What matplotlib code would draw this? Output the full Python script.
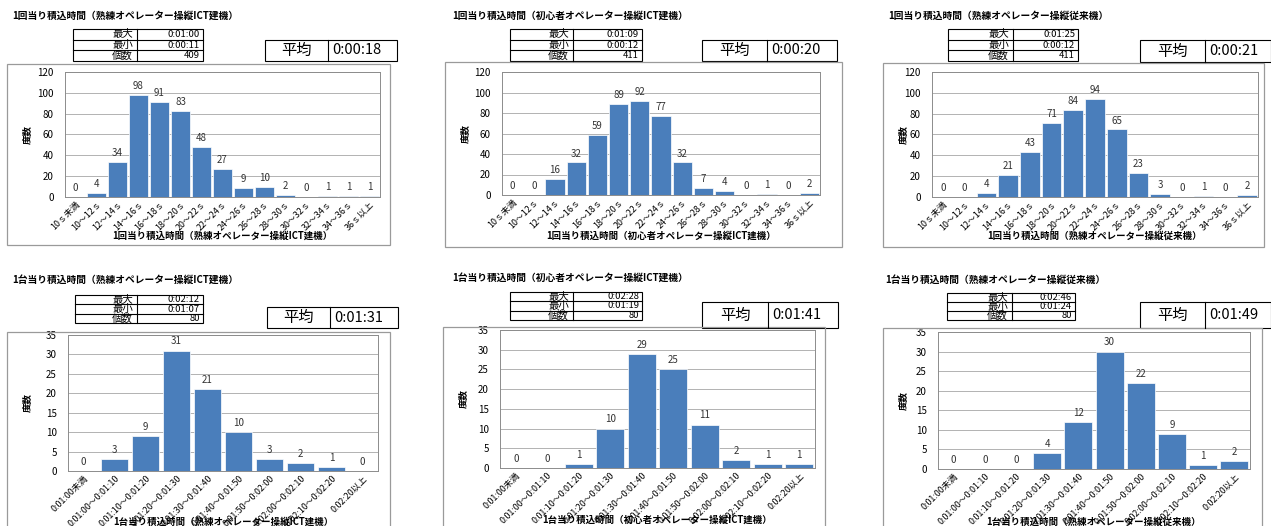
import matplotlib
matplotlib.use("Agg")
import matplotlib.pyplot as plt
from matplotlib.patches import Rectangle
from matplotlib.lines import Line2D

plt.rcParams['font.family'] = ['Noto Sans CJK JP', 'DejaVu Sans']

W, H = 1271, 526

# ---- data ----
cats_once = ["10ｓ未満", "10～12ｓ", "12～14ｓ", "14～16ｓ", "16～18ｓ", "18～20ｓ",
             "20～22ｓ", "22～24ｓ", "24～26ｓ", "26～28ｓ", "28～30ｓ", "30～32ｓ",
             "32～34ｓ", "34～36ｓ", "36ｓ以上"]
cats_unit = ["0:01:00未満", "0:01:00～0:01:10", "0:01:10～0:01:20", "0:01:20～0:01:30",
             "0:01:30～0:01:40", "0:01:40～0:01:50", "0:01:50～0:02:00",
             "0:02:00～0:02:10", "0:02:10～0:02:20", "0:02:20以上"]

once_expert_ict = [0, 4, 34, 98, 91, 83, 48, 27, 9, 10, 2, 0, 1, 1, 1]
once_novice_ict = [0, 0, 16, 32, 59, 89, 92, 77, 32, 7, 4, 0, 1, 0, 2]
once_expert_old = [0, 0, 4, 21, 43, 71, 84, 94, 65, 23, 3, 0, 1, 0, 2]
unit_expert_ict = [0, 3, 9, 31, 21, 10, 3, 2, 1, 0]
unit_novice_ict = [0, 0, 1, 10, 29, 25, 11, 2, 1, 1]
unit_expert_old = [0, 0, 0, 4, 12, 30, 22, 9, 1, 2]

titles = ["1回当り積込時間（熟練オペレーター操縦ICT建機）",
          "1回当り積込時間（初心者オペレーター操縦ICT建機）",
          "1回当り積込時間（熟練オペレーター操縦従来機）",
          "1台当り積込時間（熟練オペレーター操縦ICT建機）",
          "1台当り積込時間（初心者オペレーター操縦ICT建機）",
          "1台当り積込時間（熟練オペレーター操縦従来機）"]
maxs = ["0:01:00", "0:01:09", "0:01:25", "0:02:12", "0:02:28", "0:02:46"]
mins = ["0:00:11", "0:00:12", "0:00:12", "0:01:07", "0:01:19", "0:01:24"]
counts = ["409", "411", "411", "80", "80", "80"]
means = ["0:00:18", "0:00:20", "0:00:21", "0:01:31", "0:01:41", "0:01:49"]

series = [once_expert_ict, once_novice_ict, once_expert_old,
          unit_expert_ict, unit_novice_ict, unit_expert_old]

# ---- layout (pixels) ----
title_pos = [(12, 16), (452, 16), (888, 16), (12, 280), (452, 278), (885, 280)]
table_box = [(73, 29, 203, 61, 137), (510, 29, 642, 61, 573), (948, 29, 1078, 61, 1013),
             (75, 295, 203, 323, 137), (510, 292, 642, 320, 573), (947, 293, 1075, 320, 1012)]
avg_box = [(265, 40, 397, 61, 328), (702, 40, 837, 61, 767), (1140, 40, 1271, 62, 1205),
           (267, 307, 398, 328, 330), (702, 302, 838, 328, 768), (1140, 302, 1271, 328, 1205)]
frame_box = [(7, 64, 390, 245), (445, 62, 842, 247), (883, 63, 1264, 247),
             (7, 332, 390, 560), (443, 327, 825, 560), (883, 328, 1262, 560)]
plot_box = [(65, 72, 380, 197), (502, 72, 820, 195), (932, 72, 1258, 197),
            (68, 335, 378, 471), (500, 330, 815, 468), (938, 332, 1250, 469)]
xlabel_y = [236, 236, 236, 522, 520, 522]


def fx(x):
    return x / W


def fy(y):
    return 1 - y / H


fig = plt.figure(figsize=(W / 100, H / 100), dpi=100)


def rect(x0, y0, x1, y1, ec="black", lw=0.8):
    fig.add_artist(Rectangle((fx(x0), fy(y1)), (x1 - x0) / W, (y1 - y0) / H,
                             transform=fig.transFigure, fill=False, ec=ec, lw=lw))


def hline(x0, x1, y, lw=0.8):
    fig.add_artist(Line2D([fx(x0), fx(x1)], [fy(y), fy(y)], transform=fig.transFigure,
                          color="black", lw=lw))


def vline(x, y0, y1, lw=0.8):
    fig.add_artist(Line2D([fx(x), fx(x)], [fy(y0), fy(y1)], transform=fig.transFigure,
                          color="black", lw=lw))


for i in range(6):
    vals = series[i]
    cats = cats_once if i < 3 else cats_unit
    top = 120 if i < 3 else 35
    step = 20 if i < 3 else 5

    # title
    tx, ty = title_pos[i]
    fig.text(fx(tx), fy(ty), titles[i], fontsize=7, weight="bold", va="center", ha="left")

    # info table
    x0, y0, x1, y1, xs = table_box[i]
    rect(x0, y0, x1, y1)
    vline(xs, y0, y1)
    rh = (y1 - y0) / 3
    hline(x0, x1, y0 + rh)
    hline(x0, x1, y0 + 2 * rh)
    for r, (k, v) in enumerate(zip(["最大", "最小", "個数"], [maxs[i], mins[i], counts[i]])):
        yc = y0 + rh * (r + 0.5)
        fig.text(fx(xs - 4), fy(yc), k, fontsize=7.5, ha="right", va="center")
        fig.text(fx(x1 - 3), fy(yc), v, fontsize=6.8, ha="right", va="center")

    # mean box
    x0, y0, x1, y1, xs = avg_box[i]
    rect(x0, y0, x1, y1)
    vline(xs, y0, y1)
    fig.text(fx((x0 + xs) / 2), fy((y0 + y1) / 2), "平均", fontsize=11, ha="center", va="center")
    fig.text(fx(xs + 4), fy((y0 + y1) / 2), means[i], fontsize=10.5, ha="left", va="center")

    # chart frame
    rect(*frame_box[i], ec="#9a9a9a", lw=0.9)

    # plot
    l, t, r, b = plot_box[i]
    ax = fig.add_axes([fx(l), fy(b), (r - l) / W, (b - t) / H])
    xs_ = range(len(vals))
    ax.bar(xs_, vals, width=0.9, color="#4a7ebb", edgecolor="white", linewidth=0.5, zorder=3)
    for k, v in enumerate(vals):
        ax.text(k, v + top * 0.03, str(v), fontsize=7, ha="center", va="bottom", color="#333333")
    ax.set_xlim(-0.5, len(vals) - 0.5)
    ax.set_ylim(0, top)
    ax.set_yticks(range(0, top + 1, step))
    ax.yaxis.grid(True, color="#a6a6a6", lw=0.6, zorder=0)
    ax.set_xticks(list(xs_))
    ax.set_xticklabels(cats, rotation=45, ha="right", rotation_mode="anchor", fontsize=6.4)
    ax.tick_params(axis="y", labelsize=7, length=0, pad=8)
    ax.tick_params(axis="x", length=0, pad=2)
    for s in ax.spines.values():
        s.set_color("#8c8c8c")
        s.set_linewidth(0.7)

    # axis titles
    fig.text(fx((l + r) / 2), fy(xlabel_y[i]), titles[i], fontsize=6.8, weight="bold",
             ha="center", va="center")
    fig.text(fx(frame_box[i][0] + 20), fy((t + b) / 2), "度数", fontsize=6.8, weight="bold",
             rotation=90, ha="center", va="center")

fig.savefig("out.png", dpi=100)
